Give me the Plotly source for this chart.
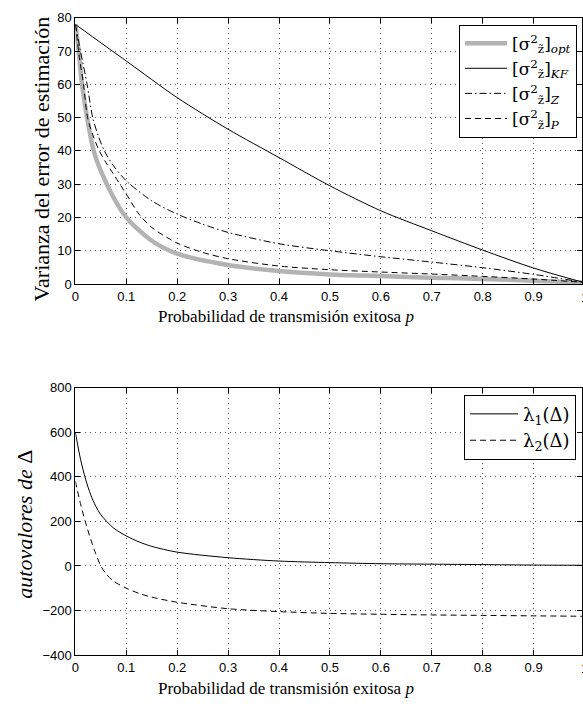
import plotly.graph_objects as go

# ---------------- data ----------------
p_opt = [0, 0.0065, 0.013, 0.023, 0.036, 0.05, 0.075, 0.1, 0.15, 0.2, 0.3, 0.4, 0.5, 0.6, 0.7, 0.8, 0.9, 1.0]
v_opt = [78, 70, 60, 50, 40, 34, 26, 20, 13, 9.1, 5.7, 3.9, 2.9, 2.4, 1.9, 1.5, 1.0, 0.4]

p_kf = [0, 0.1, 0.2, 0.3, 0.4, 0.5, 0.6, 0.7, 0.8, 0.9, 1.0]
v_kf = [78, 67, 56, 46.5, 38, 29.5, 22, 16, 10.2, 4.8, 0.4]

p_z = [0, 0.01, 0.023, 0.034, 0.045, 0.057, 0.075, 0.1, 0.15, 0.2, 0.25, 0.3, 0.4, 0.5, 0.6, 0.7, 0.8, 0.9, 1.0]
v_z = [78, 70, 60, 50, 44.5, 40, 35.5, 31, 25, 21, 18, 15.5, 12.1, 10, 8.2, 6.6, 4.9, 2.9, 0.5]

p_p = [0, 0.008, 0.016, 0.024, 0.035, 0.047, 0.06, 0.075, 0.1, 0.125, 0.15, 0.2, 0.25, 0.3, 0.4, 0.5, 0.6, 0.7, 0.8, 0.9, 1.0]
v_p = [78, 68, 60, 50, 44.5, 40, 36.5, 33, 27, 21, 17, 12.3, 9.5, 7.6, 5.4, 4.3, 3.6, 3.0, 2.3, 1.5, 0.5]

p_l1 = [0, 0.01, 0.02, 0.03, 0.04, 0.05, 0.075, 0.1, 0.125, 0.15, 0.2, 0.3, 0.4, 0.5, 0.6, 0.7, 0.8, 0.9, 1.0]
v_l1 = [600, 480, 390, 320, 268, 230, 170, 135, 108, 88, 62, 37, 22, 15, 10, 8, 6, 4, 3]

p_l2 = [0, 0.01, 0.02, 0.03, 0.04, 0.05, 0.06, 0.075, 0.1, 0.125, 0.15, 0.2, 0.3, 0.4, 0.5, 0.6, 0.7, 0.8, 0.9, 1.0]
v_l2 = [380, 280, 195, 120, 55, 0, -35, -68, -100, -123, -140, -163, -192, -205, -213, -217, -220, -222, -224, -226]

x_ticks = [0, 0.1, 0.2, 0.3, 0.4, 0.5, 0.6, 0.7, 0.8, 0.9, 1.0]
x_ticktext = ["0", "0.1", "0.2", "0.3", "0.4", "0.5", "0.6", "0.7", "0.8", "0.9", "1"]
y1_ticks = [0, 10, 20, 30, 40, 50, 60, 70, 80]
y2_ticks = [-400, -200, 0, 200, 400, 600, 800]

names_top = ["[σ<sup>2</sup><sub>z̃</sub>]<sub><i>opt</i></sub>",
             "[σ<sup>2</sup><sub>z̃</sub>]<sub><i>KF</i></sub>",
             "[σ<sup>2</sup><sub>z̃</sub>]<sub><i>Z</i></sub>",
             "[σ<sup>2</sup><sub>z̃</sub>]<sub><i>P</i></sub>"]
names_bot = ["λ<sub>1</sub>(Δ)", "λ<sub>2</sub>(Δ)"]

xlabel = "Probabilidad de transmisión exitosa <i>p</i>"
ylabel_top = "Varianza del error de estimación"
ylabel_bot = "<i>autovalores de</i> Δ"

# ---------------- figure ----------------
W, H = 583, 711
X0 = 72.0
PX_PER_UNIT = 513.5
xmax = (W - X0) / PX_PER_UNIT

serif = "Liberation Serif, DejaVu Serif, serif"
legserif = "DejaVu Serif, Liberation Serif, serif"
sans = "Liberation Sans, Arial, sans-serif"
TICK_SIZE = 13

fig = go.Figure()
fig.add_trace(go.Scatter(x=p_opt, y=v_opt, mode="lines", name=names_top[0],
                         line=dict(color="#b3b3b3", width=4.5, shape="spline", smoothing=0.8),
                         xaxis="x", yaxis="y", legend="legend"))
fig.add_trace(go.Scatter(x=p_kf, y=v_kf, mode="lines", name=names_top[1],
                         line=dict(color="black", width=1, shape="spline", smoothing=0.8),
                         xaxis="x", yaxis="y", legend="legend"))
fig.add_trace(go.Scatter(x=p_z, y=v_z, mode="lines", name=names_top[2],
                         line=dict(color="black", width=1, dash="7px,3px,1.5px,3px", shape="spline", smoothing=0.8),
                         xaxis="x", yaxis="y", legend="legend"))
fig.add_trace(go.Scatter(x=p_p, y=v_p, mode="lines", name=names_top[3],
                         line=dict(color="black", width=1, dash="6px,4px", shape="spline", smoothing=0.8),
                         xaxis="x", yaxis="y", legend="legend"))
fig.add_trace(go.Scatter(x=p_l1, y=v_l1, mode="lines", name=names_bot[0],
                         line=dict(color="black", width=1, shape="spline", smoothing=0.8),
                         xaxis="x2", yaxis="y2", legend="legend2"))
fig.add_trace(go.Scatter(x=p_l2, y=v_l2, mode="lines", name=names_bot[1],
                         line=dict(color="black", width=1, dash="6px,4px", shape="spline", smoothing=0.8),
                         xaxis="x2", yaxis="y2", legend="legend2"))

top_y0, top_y1 = 11, 283
bot_y0, bot_y1 = 389, 662

axis_common = dict(showline=True, linecolor="black", linewidth=1, mirror="ticks",
                   ticks="inside", ticklen=5, tickcolor="black",
                   showgrid=True, gridcolor="#555", gridwidth=1, griddash="1px,4px",
                   zeroline=False, tickfont=dict(family=sans, size=TICK_SIZE, color="black"))

fig.update_layout(
    width=W, height=H,
    margin=dict(l=0, r=0, t=0, b=0),
    paper_bgcolor="white", plot_bgcolor="white",
    xaxis=dict(domain=[X0 / W, 1], range=[0, xmax], anchor="y",
               tickvals=x_ticks, ticktext=x_ticktext, **axis_common),
    yaxis=dict(domain=[1 - top_y1 / H, 1 - top_y0 / H], range=[0, 80], anchor="x",
               tickvals=y1_ticks, **axis_common),
    xaxis2=dict(domain=[X0 / W, 1], range=[0, xmax], anchor="y2",
                tickvals=x_ticks, ticktext=x_ticktext, **axis_common),
    yaxis2=dict(domain=[1 - bot_y1 / H, 1 - bot_y0 / H], range=[-400, 800], anchor="x2",
                tickvals=y2_ticks, **axis_common),
    legend=dict(x=578 / W, xanchor="right", y=1 - 18 / H, yanchor="top",
                bgcolor="white", bordercolor="black", borderwidth=1,
                font=dict(family=legserif, size=17, color="black"),
                itemwidth=42, tracegroupgap=0),
    legend2=dict(x=577 / W, xanchor="right", y=1 - 396 / H, yanchor="top",
                 bgcolor="white", bordercolor="black", borderwidth=1,
                 font=dict(family=legserif, size=18, color="black"),
                 itemwidth=48, tracegroupgap=0),
    showlegend=True,
)

title_font = dict(family=serif, size=17, color="black")
ytitle_font = dict(family=serif, size=22, color="black")
xc = 284 / W
fig.add_annotation(text=xlabel, xref="paper", yref="paper",
                   x=xc, y=1 - 316 / H, showarrow=False, font=title_font, xanchor="center", yanchor="middle")
fig.add_annotation(text=xlabel, xref="paper", yref="paper",
                   x=xc, y=1 - 696 / H, showarrow=False, font=title_font, xanchor="center", yanchor="middle")
fig.add_annotation(text=ylabel_top, xref="paper", yref="paper",
                   x=38 / W, y=1 - 155 / H, showarrow=False, font=ytitle_font, textangle=-90,
                   xanchor="center", yanchor="middle")
fig.add_annotation(text=ylabel_bot, xref="paper", yref="paper",
                   x=21 / W, y=1 - 528 / H, showarrow=False, font=ytitle_font, textangle=-90,
                   xanchor="center", yanchor="middle")
# the clipped "1" tick labels at the right edge
for yy in (297, 676):
    fig.add_annotation(text="1", xref="paper", yref="paper", x=(X0 + PX_PER_UNIT) / W, y=1 - yy / H,
                       showarrow=False, font=dict(family=sans, size=TICK_SIZE, color="black"),
                       xanchor="center", yanchor="middle")

fig.write_html("out.html", config={"displayModeBar": False},
               post_script="document.body.style.margin='0';document.body.style.overflow='hidden';")
